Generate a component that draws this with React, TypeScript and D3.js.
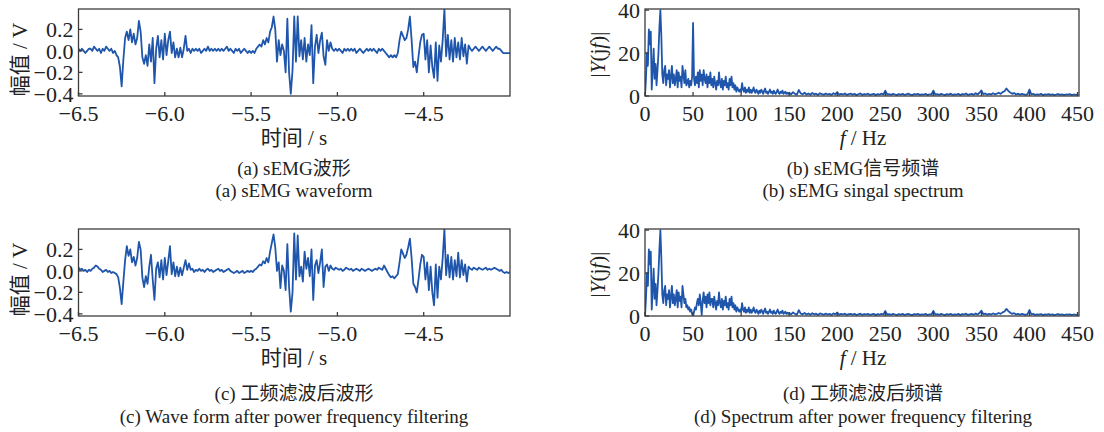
import React from 'react';
import * as d3 from 'd3';

// sEMG waveform samples, one every 0.01 s from -6.5 s to -4.0 s
const waveRaw = [
  0.02, 0.00, 0.02, 0.00, -0.02, 0.00, 0.02, 0.02, 0.00, 0.04,
  0.02, 0.00, 0.02, -0.02, 0.02, 0.00, 0.04, 0.02, 0.00, 0.02,
  -0.02, 0.00, -0.04, -0.06, -0.15, -0.33, -0.08, 0.12, 0.18, 0.10,
  0.20, 0.08, 0.16, 0.06, 0.12, 0.28, 0.18, -0.06, -0.12, -0.04,
  -0.14, 0.06, -0.10, 0.12, -0.30, 0.02, 0.14, -0.06, 0.10, -0.08,
  0.16, -0.04, 0.10, 0.18, -0.02, 0.08, -0.06, 0.02, -0.06, 0.03,
  -0.06, 0.02, 0.14, 0.00, 0.02, -0.02, 0.02, 0.00, 0.02, 0.00,
  0.02, -0.02, 0.00, 0.02, 0.00, 0.04, 0.00, 0.02, 0.00, 0.02,
  0.00, 0.02, 0.00, 0.02, 0.00, 0.02, 0.04, 0.00, 0.02, 0.00,
  -0.02, 0.02, 0.00, 0.02, -0.02, 0.00, 0.02, 0.00, -0.02, 0.00,
  -0.02, 0.00, -0.02, 0.02, 0.04, 0.06, 0.04, 0.10, 0.06, 0.12,
  0.08, 0.18, 0.22, 0.32, 0.20, -0.10, 0.10, -0.04, 0.06, 0.00,
  -0.20, 0.30, -0.20, -0.40, -0.18, 0.32, -0.10, 0.32, -0.05, 0.10,
  -0.08, 0.12, -0.10, 0.06, -0.04, 0.24, -0.30, 0.04, 0.15, -0.02,
  0.10, 0.17, -0.05, -0.13, 0.10, 0.00, 0.08, 0.02, 0.00, 0.02,
  0.00, 0.02, 0.00, -0.02, 0.02, 0.00, 0.02, 0.00, 0.02, 0.00,
  0.02, -0.02, 0.00, 0.02, 0.00, -0.02, 0.00, 0.02, 0.00, 0.02,
  0.00, 0.02, 0.00, -0.02, 0.02, 0.00, 0.02, 0.00, -0.02, -0.04,
  -0.06, -0.04, -0.06, -0.04, -0.06, -0.02, 0.10, 0.18, 0.14, 0.10,
  0.12, 0.20, 0.32, 0.10, -0.15, -0.10, -0.20, -0.05, 0.08, 0.15,
  0.16, -0.08, 0.10, -0.20, 0.05, -0.15, -0.25, 0.08, -0.28, 0.05,
  -0.10, 0.10, 0.39, -0.05, 0.15, -0.08, 0.10, -0.10, 0.12, -0.06,
  0.08, -0.08, 0.12, -0.05, 0.06, -0.12, 0.05, 0.02, 0.00, 0.02,
  0.04, 0.02, 0.00, 0.02, 0.04, 0.02, 0.00, 0.02, 0.04, 0.02,
  0.00, 0.02, 0.04, 0.02, 0.02, 0.00, -0.02, -0.02, -0.02, -0.02,
  -0.02,
];

// waveform after power-frequency filtering, same sampling
const waveFiltered = [
  0.03, 0.01, 0.02, 0.00, 0.01, -0.01, 0.01, 0.00, 0.02, 0.03,
  0.05, 0.04, 0.02, 0.01, -0.01, 0.00, 0.01, -0.01, 0.00, -0.02,
  -0.01, -0.02, -0.03, -0.06, -0.16, -0.31, -0.10, 0.10, 0.23, 0.14,
  0.20, 0.08, 0.13, 0.05, 0.12, 0.27, 0.20, -0.06, -0.15, -0.05,
  -0.12, 0.04, 0.15, -0.08, -0.27, 0.02, 0.08, -0.06, 0.10, -0.08,
  0.12, -0.04, 0.09, 0.23, -0.03, 0.08, -0.05, 0.04, -0.05, 0.03,
  -0.04, 0.03, 0.10, 0.01, 0.07, 0.01, 0.02, -0.01, 0.01, 0.00,
  0.02, 0.00, 0.01, -0.01, 0.01, 0.02, 0.00, 0.01, -0.01, 0.00,
  0.01, 0.02, 0.00, 0.01, -0.01, 0.00, 0.01, 0.02, 0.00, -0.01,
  -0.02, -0.01, 0.00, -0.02, -0.01, 0.00, -0.02, -0.01, 0.00, -0.01,
  0.00, -0.01, 0.01, 0.02, 0.04, 0.06, 0.05, 0.09, 0.07, 0.12,
  0.08, 0.18, 0.26, 0.34, 0.22, 0.00, 0.08, -0.16, 0.05, 0.00,
  -0.18, 0.25, -0.15, -0.38, -0.20, 0.35, -0.08, 0.33, -0.05, 0.04,
  -0.10, 0.18, 0.02, 0.12, -0.05, 0.20, -0.27, 0.05, 0.10, -0.02,
  0.08, 0.20, -0.15, 0.04, 0.06, 0.00, 0.05, 0.02, 0.01, 0.03,
  0.02, 0.01, 0.02, 0.00, 0.01, 0.03, 0.02, 0.01, 0.02, 0.00,
  0.01, 0.02, 0.01, 0.00, 0.02, 0.01, 0.00, 0.01, 0.02, 0.01,
  0.00, 0.01, 0.02, 0.01, 0.03, 0.02, 0.01, 0.05, 0.02, -0.01,
  -0.04, -0.06, -0.05, -0.07, -0.05, -0.03, 0.08, 0.20, 0.16, 0.12,
  0.15, 0.22, 0.30, 0.12, -0.12, -0.15, -0.20, -0.08, 0.06, 0.15,
  0.13, -0.08, 0.08, -0.18, 0.04, -0.20, -0.32, 0.06, -0.25, 0.04,
  -0.08, 0.12, 0.39, -0.04, 0.15, -0.06, 0.13, -0.08, 0.10, -0.05,
  0.17, -0.06, 0.10, -0.04, 0.06, -0.10, 0.04, 0.02, 0.01, 0.03,
  0.02, 0.01, 0.03, 0.02, 0.01, 0.02, 0.03, 0.01, 0.02, 0.01,
  0.02, 0.03, 0.02, 0.01, 0.00, 0.01, -0.01, -0.02, -0.01, -0.02,
  -0.01,
];

// |Y(jf)| at 1 Hz steps, 0..149 Hz
const specRawLow = [
  0, 8, 20, 14, 31, 24, 30, 3, 12, 22,
  8, 15, 5, 12, 20, 32, 40, 28, 10, 6,
  12, 14, 5, 10, 8, 12, 4, 9, 14, 6,
  10, 5, 8, 12, 4, 11, 7, 9, 4, 14,
  10, 6, 12, 5, 6, 8, 4, 7, 5, 9,
  34, 8, 5, 9, 6, 11, 4, 12, 7, 10,
  5, 12, 8, 6, 10, 4, 9, 6, 11, 5,
  8, 4, 9, 6, 3, 7, 5, 11, 6, 4,
  8, 3, 7, 5, 9, 4, 6, 3, 8, 5,
  9, 4, 6, 3, 5, 2, 4, 3, 2, 3,
  2, 6, 3, 2, 4, 1.5, 3, 2, 4, 1.5,
  3, 1.5, 2.5, 4, 2, 1.5, 3, 2, 1, 2.5,
  1.5, 3, 2, 1, 2.5, 3.5, 1.5, 2, 1, 2,
  3, 1.5, 2, 1, 2.5, 1.5, 1, 2, 3, 1.5,
  1, 2, 1.5, 2.5, 1, 1.5, 2, 1, 1.5, 1,
];

// |Y(jf)| at 2 Hz steps, 150..450 Hz
const specRawHigh = [
  1.5, 0.8, 1.8, 1.0, 0.6, 2.8, 1.2, 0.8, 1.5, 0.7,
  1.2, 0.6, 1.4, 0.8, 1.1, 0.5, 1.3, 0.9, 0.6, 1.2,
  0.7, 1.0, 0.5, 1.3, 0.8, 1.8, 0.6, 1.0, 0.7, 1.2,
  0.5, 0.9, 1.1, 0.6, 1.0, 0.4, 0.8, 1.2, 0.5, 0.9,
  0.7, 1.1, 0.5, 0.8, 1.0, 0.4, 0.9, 0.6, 1.1, 0.7,
  2.5, 0.6, 0.9, 0.5, 1.0, 0.7, 0.4, 0.9, 0.6, 1.0,
  0.5, 0.8, 1.1, 0.6, 0.4, 0.9, 0.7, 1.0, 0.5, 0.8,
  0.6, 1.0, 0.4, 0.8, 0.7, 2.5, 0.6, 0.9, 0.5, 1.0,
  0.7, 0.4, 0.9, 0.6, 1.1, 0.5, 0.8, 0.6, 1.0, 0.4,
  0.9, 0.7, 1.2, 0.5, 0.8, 1.0, 0.6, 1.3, 0.7, 1.5,
  2.6, 0.8, 1.2, 0.6, 1.0, 0.7, 1.3, 0.8, 1.1, 1.5,
  1.0, 1.8, 2.2, 3.5, 2.4, 1.6, 1.0, 1.4, 0.7, 1.1,
  0.6, 1.0, 0.8, 0.5, 0.9, 3.0, 0.7, 1.0, 0.5, 0.8,
  0.6, 1.0, 0.4, 0.8, 0.6, 0.9, 0.5, 0.8, 0.4, 0.7,
  0.9, 0.5, 0.8, 0.4, 0.7, 0.6, 0.9, 0.4, 0.7, 0.5,
  0.6,
];

const specFiltLow = [
  0, 8, 20, 14, 31, 24, 30, 3, 12, 22,
  8, 15, 5, 12, 20, 31, 40, 27, 10, 6,
  12, 14, 5, 10, 8, 12, 4, 9, 14, 6,
  10, 5, 8, 12, 4, 11, 7, 9, 4, 14,
  10, 6, 8, 4, 5, 3, 4, 2, 3, 1,
  0, 2, 4, 3, 6, 8, 5, 10, 6, 0.5,
  7, 11, 6, 9, 4, 10, 6, 11, 5, 8,
  8, 4, 9, 6, 3, 7, 5, 11, 6, 4,
  8, 3, 7, 5, 9, 4, 6, 3, 8, 5,
  9, 4, 6, 3, 5, 2, 4, 3, 2, 3,
  2, 6, 3, 2, 4, 1.5, 3, 2, 4, 1.5,
  3, 1.5, 2.5, 4, 2, 1.5, 3, 2, 1, 2.5,
  1.5, 3, 2, 1, 2.5, 3.5, 1.5, 2, 1, 2,
  3, 1.5, 2, 1, 2.5, 1.5, 1, 2, 3, 1.5,
  1, 2, 1.5, 2.5, 1, 1.5, 2, 1, 1.5, 1,
];

const specFiltHigh = [
  1.4, 0.8, 1.7, 1.0, 0.6, 2.7, 1.1, 0.8, 1.4, 0.7,
  1.2, 0.6, 1.3, 0.8, 1.1, 0.5, 1.2, 0.9, 0.6, 1.1,
  0.7, 1.0, 0.5, 1.2, 0.8, 1.6, 0.6, 1.0, 0.7, 1.1,
  0.5, 0.9, 1.0, 0.6, 1.0, 0.4, 0.8, 1.1, 0.5, 0.9,
  0.7, 1.0, 0.5, 0.8, 1.0, 0.4, 0.9, 0.6, 1.0, 0.7,
  2.3, 0.6, 0.9, 0.5, 1.0, 0.7, 0.4, 0.9, 0.6, 1.0,
  0.5, 0.8, 1.0, 0.6, 0.4, 0.9, 0.7, 1.0, 0.5, 0.8,
  0.6, 1.0, 0.4, 0.8, 0.7, 2.4, 0.6, 0.9, 0.5, 1.0,
  0.7, 0.4, 0.9, 0.6, 1.0, 0.5, 0.8, 0.6, 1.0, 0.4,
  0.9, 0.7, 1.1, 0.5, 0.8, 1.0, 0.6, 1.2, 0.7, 1.4,
  2.5, 0.8, 1.1, 0.6, 1.0, 0.7, 1.2, 0.8, 1.0, 1.4,
  1.0, 1.7, 2.1, 3.3, 2.3, 1.5, 1.0, 1.3, 0.7, 1.0,
  0.6, 1.0, 0.8, 0.5, 0.9, 2.8, 0.7, 1.0, 0.5, 0.8,
  0.6, 0.9, 0.4, 0.8, 0.6, 0.9, 0.5, 0.8, 0.4, 0.7,
  0.9, 0.5, 0.8, 0.4, 0.7, 0.6, 0.8, 0.4, 0.7, 0.5,
  0.6,
];

const waveTicksX = [-6.5, -6.0, -5.5, -5.0, -4.5];
const waveTicksY = [-0.4, -0.2, 0.0, 0.2];
const specTicksX = [0, 50, 100, 150, 200, 250, 300, 350, 400, 450];
const specTicksY = [0, 20, 40];

const BLUE = '#1f56ac';
const AXIS = '#3c3c3c';
const FONT = "'Liberation Serif', 'Times New Roman', 'Noto Sans CJK SC', serif";

const waveTimes = waveRaw.map((_, i) => -6.5 + i * 0.01);
const specFreqs = [
  ...specRawLow.map((_, i) => i),
  ...specRawHigh.map((_, i) => 150 + i * 2),
];

type Pt = [number, number];

function Frame({ id, x, y, left, right, top, bottom, pts, xTicks, yTicks, fmtX, fmtY }: any) {
  const line = d3.line<Pt>().x(d => x(d[0])).y(d => y(d[1]));
  return (
    <g>
      <clipPath id={id}>
        <rect x={left} y={top} width={right - left} height={bottom - top} />
      </clipPath>
      <path d={line(pts) || ''} fill="none" stroke={BLUE} strokeWidth={1.8} strokeLinejoin="round" clipPath={`url(#${id})`} />
      <rect x={left} y={top} width={right - left} height={bottom - top} fill="none" stroke={AXIS} strokeWidth={1.3} />
      {xTicks.map((t: number) => (
        <g key={'x' + t}>
          <line x1={x(t)} x2={x(t)} y1={bottom} y2={bottom - 4} stroke={AXIS} strokeWidth={1.3} />
          <text x={x(t)} y={bottom + 25} textAnchor="middle" fontSize={22} fontFamily={FONT} fill="#222">{fmtX(t)}</text>
        </g>
      ))}
      {yTicks.map((t: number) => (
        <g key={'y' + t}>
          <line x1={left} x2={left + 4} y1={y(t)} y2={y(t)} stroke={AXIS} strokeWidth={1.3} />
          <text x={left - 5} y={y(t)} dy="0.35em" textAnchor="end" fontSize={22} fontFamily={FONT} fill="#222">{fmtY(t)}</text>
        </g>
      ))}
    </g>
  );
}

function WavePanel({ dy, values, id, cap1, cap2, capY }: any) {
  const left = 78.5, right = 510, top = 9 + dy, bottom = 96 + dy;
  const x = d3.scaleLinear().domain([-6.5, -4.0]).range([left, right]);
  const y = d3.scaleLinear().domain([-0.42, 0.39]).range([bottom, top]);
  const pts: Pt[] = values.map((v: number, i: number) => [waveTimes[i], v]);
  return (
    <g>
      <Frame id={id} x={x} y={y} left={left} right={right} top={top} bottom={bottom} pts={pts}
        xTicks={waveTicksX} yTicks={waveTicksY} fmtX={d3.format('.1f')} fmtY={d3.format('.1f')} />
      <text transform={`translate(27,${(top + bottom) / 2 + 7}) rotate(-90)`} textAnchor="middle" fontSize={21} fontFamily={FONT} fill="#222">幅值 / V</text>
      <text x={294} y={145 + dy} textAnchor="middle" fontSize={21} fontFamily={FONT} fill="#222">时间 / s</text>
      <text x={294} y={capY[0]} textAnchor="middle" fontSize={19} fontFamily={FONT} fill="#222">{cap1}</text>
      <text x={294} y={capY[1]} textAnchor="middle" fontSize={19} fontFamily={FONT} fill="#222">{cap2}</text>
    </g>
  );
}

function SpecPanel({ dy, low, high, id, cap1, cap2, capY }: any) {
  const left = 645, right = 1079, top = 9 + dy, bottom = 96 + dy;
  const x = d3.scaleLinear().domain([0, 451.5]).range([left, right]);
  const y = d3.scaleLinear().domain([0, 40.5]).range([bottom, top]);
  const vals = [...low, ...high];
  const pts: Pt[] = vals.map((v: number, i: number) => [specFreqs[i], v]);
  return (
    <g>
      <Frame id={id} x={x} y={y} left={left} right={right} top={top} bottom={bottom} pts={pts}
        xTicks={specTicksX} yTicks={specTicksY} fmtX={d3.format('d')} fmtY={d3.format('d')} />
      <text transform={`translate(605,${(top + bottom) / 2 + 2}) rotate(-90)`} textAnchor="middle" fontSize={21} fontFamily={FONT} fill="#222">
        |<tspan fontStyle="italic">Y</tspan>(j<tspan fontStyle="italic">f</tspan>)|
      </text>
      <text x={863} y={145 + dy} textAnchor="middle" fontSize={21} fontFamily={FONT} fill="#222">
        <tspan fontStyle="italic">f</tspan> / Hz
      </text>
      <text x={863} y={capY[0]} textAnchor="middle" fontSize={19} fontFamily={FONT} fill="#222">{cap1}</text>
      <text x={863} y={capY[1]} textAnchor="middle" fontSize={19} fontFamily={FONT} fill="#222">{cap2}</text>
    </g>
  );
}

export default function App() {
  return (
    <svg width={1104} height={432} style={{ position: 'absolute', left: 0, top: 0, background: '#fff' }}>
      <WavePanel dy={0} id="ca" values={waveRaw} cap1="(a) sEMG波形" cap2="(a) sEMG waveform" capY={[175, 197]} />
      <SpecPanel dy={0} id="cb" low={specRawLow} high={specRawHigh} cap1="(b) sEMG信号频谱" cap2="(b) sEMG singal spectrum" capY={[175, 197]} />
      <WavePanel dy={220} id="cc" values={waveFiltered} cap1="(c) 工频滤波后波形" cap2="(c) Wave form after power frequency filtering" capY={[400, 423]} />
      <SpecPanel dy={220} id="cd" low={specFiltLow} high={specFiltHigh} cap1="(d) 工频滤波后频谱" cap2="(d) Spectrum after power frequency filtering" capY={[400, 423]} />
    </svg>
  );
}
